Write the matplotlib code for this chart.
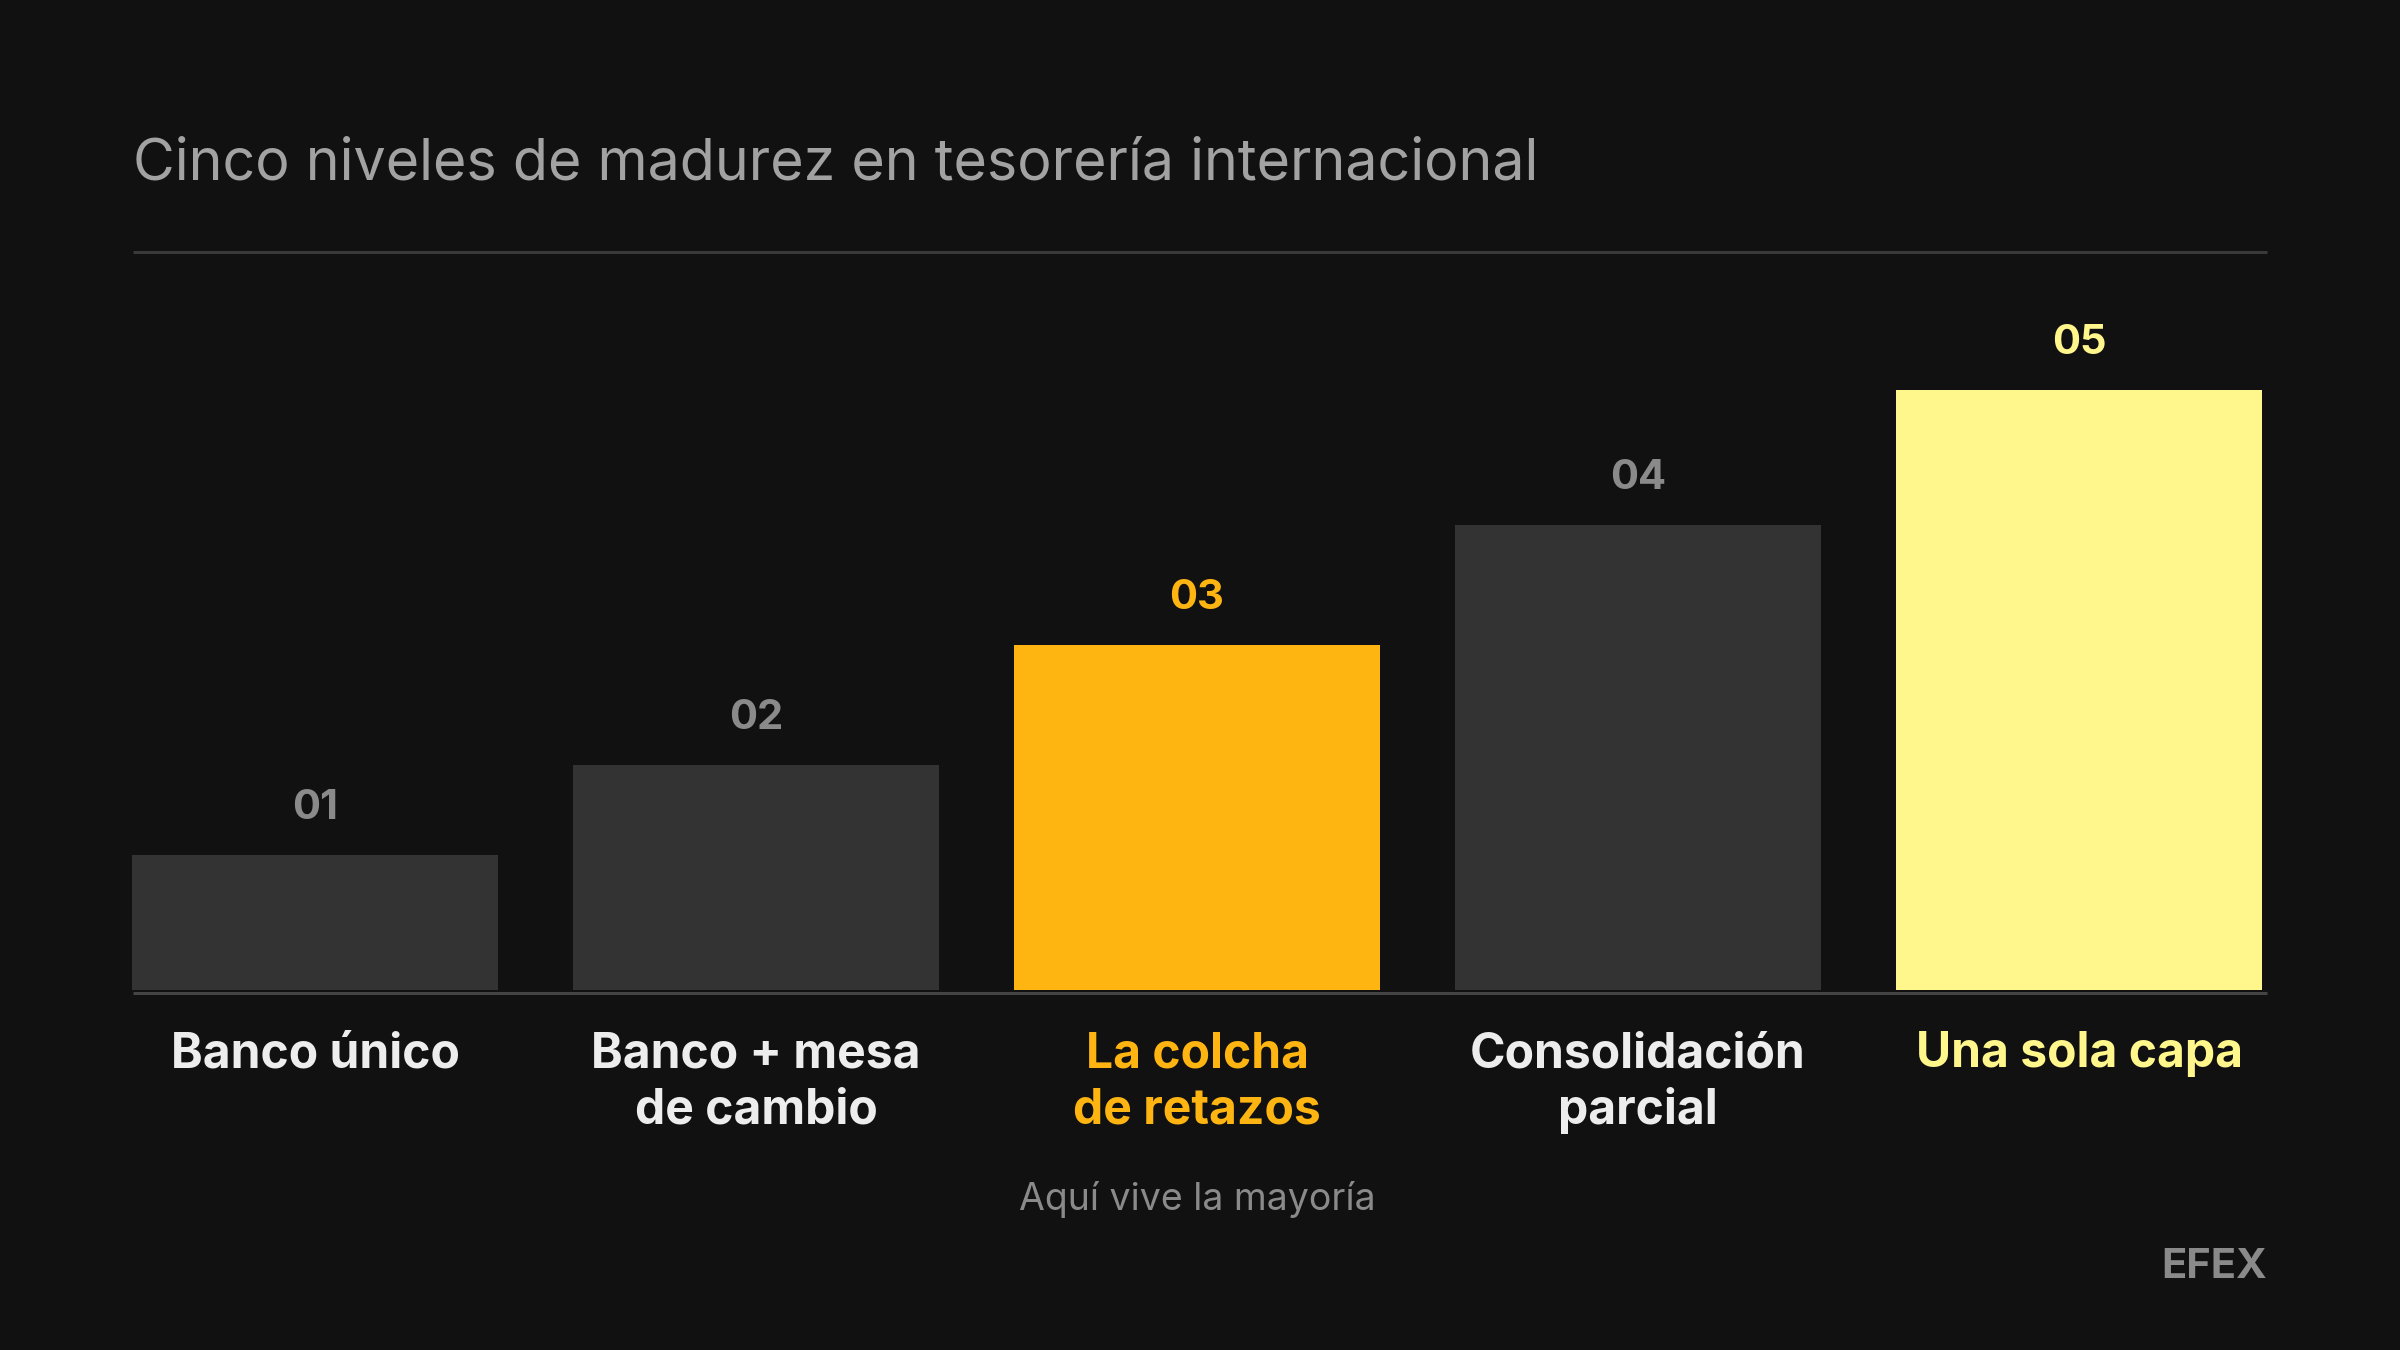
import matplotlib
matplotlib.use("Agg")
import matplotlib.pyplot as plt
from matplotlib.lines import Line2D

plt.rcParams['font.family'] = ['Inter', 'DejaVu Sans']

# ---- data ----
levels = ["01", "02", "03", "04", "05"]
categories = ["Banco único", "Banco + mesa\nde cambio", "La colcha\nde retazos",
              "Consolidación\nparcial", "Una sola capa"]
values = [22.5, 37.5, 57.5, 77.5, 100]
title = "Cinco niveles de madurez en tesorería internacional"
note = "Aquí vive la mayoría"
brand = "EFEX"

# ---- styles ----
BG = "#111111"
bar_colors = ["#333333", "#333333", "#FFB511", "#333333", "#FFF68C"]
num_colors = ["#8A8A8A", "#8A8A8A", "#FFB511", "#8A8A8A", "#FFF68C"]
label_colors = ["#EDEDED", "#EDEDED", "#FFB511", "#EDEDED", "#FFF68C"]

W, H = 2400, 1350
DPI = 100
fig = plt.figure(figsize=(W / DPI, H / DPI), dpi=DPI, facecolor=BG)

def fx(px):
    return px / W

def fy(py):
    return 1 - py / H

# axes: left 133, right 2267, bottom (baseline) 990, top 390 (value 100)
ax = fig.add_axes([fx(132), fy(990), fx(2267) - fx(132), fy(390) - fy(990)])
ax.set_facecolor(BG)
width = 366 / 441
x = list(range(len(values)))
ax.bar(x, values, width=width, color=bar_colors, linewidth=0)
ax.set_xlim(-width / 2, 4 + width / 2 + (2267 - 2262) / 441)
ax.set_ylim(0, 100)
ax.axis('off')

# level numbers above bars
for xi, v, lv, c in zip(x, values, levels, num_colors):
    ax.annotate(lv, xy=(xi, v), xytext=(0, 36 * 72 / DPI), textcoords='offset points',
                ha='center', va='baseline', fontsize=30, fontweight='bold',
                color=c, annotation_clip=False)

# category labels below
px_per_pt = DPI / 72
for xi, lab, c in zip(x, categories, label_colors):
    for i, line in enumerate(lab.split("\n")):
        ax.annotate(line, xy=(xi, 0), xytext=(0, -(77 + 57 * i) / px_per_pt),
                    textcoords='offset points', ha='center', va='baseline',
                    fontsize=34.6, fontweight='bold', color=c, annotation_clip=False)

# note under highlighted bar
ax.annotate(note, xy=(2, 0), xytext=(0, -220 / px_per_pt), textcoords='offset points',
            ha='center', va='baseline', fontsize=27, color="#8A8A8A",
            annotation_clip=False)

# baseline rule
fig.add_artist(Line2D([fx(133), fx(2267)], [fy(993), fy(993)], color="#444444",
                      linewidth=3 / px_per_pt, solid_capstyle='butt'))

# title and title rule
fig.text(fx(133), fy(180), title, ha='left', va='baseline', fontsize=41.3,
         color="#A2A2A2")
fig.add_artist(Line2D([fx(133), fx(2267)], [fy(252), fy(252)], color="#3A3A3A",
                      linewidth=3 / px_per_pt, solid_capstyle='butt'))

# brand
fig.text(fx(2267), fy(1278), brand, ha='right', va='baseline', fontsize=30,
         fontweight='bold', color="#8A8A8A")

fig.savefig("out.png", dpi=DPI, facecolor=BG)
